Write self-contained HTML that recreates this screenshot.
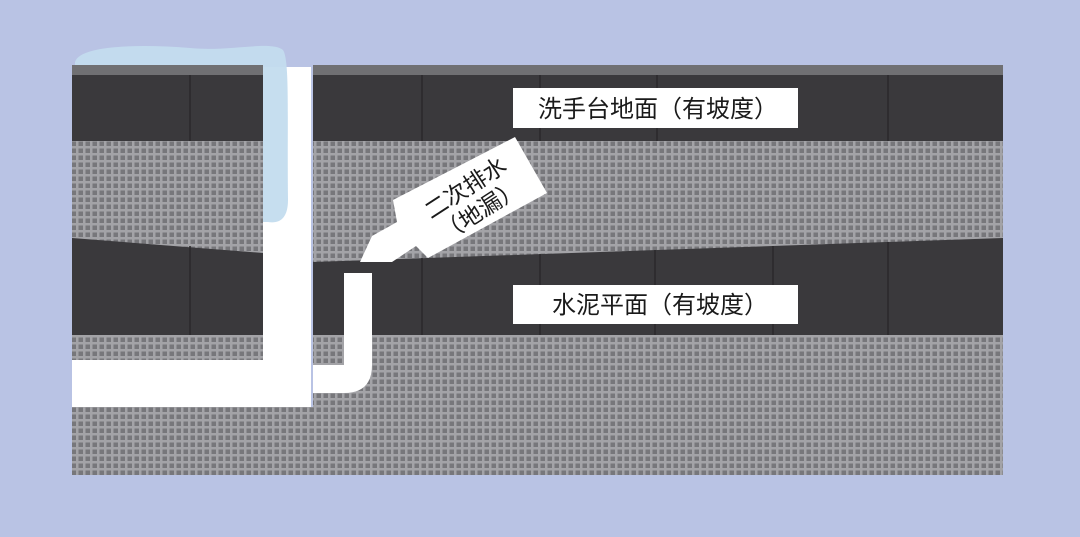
<!DOCTYPE html>
<html><head><meta charset="utf-8"><style>
html,body{margin:0;padding:0;background:#b9c3e4;}
svg{display:block;}
text{font-family:"Liberation Sans","Noto Sans CJK SC",sans-serif;fill:#1a1a1a;}
</style></head><body>
<svg width="1080" height="537" viewBox="0 0 1080 537" xmlns="http://www.w3.org/2000/svg">
<defs>
<pattern id="mesh" width="7" height="7" patternUnits="userSpaceOnUse">
<rect width="7" height="7" fill="#a3a3a7"/>
<rect x="1.5" y="1.5" width="4.5" height="4.5" fill="#77777b"/>
</pattern>
</defs>
<rect width="1080" height="537" fill="#b9c3e4"/>
<rect x="72" y="65" width="191" height="10" fill="#707073"/>
<rect x="72" y="75" width="191" height="66" fill="#3a393c"/>
<line x1="190" y1="75" x2="190" y2="141" stroke="#2a292b" stroke-width="1.5"/>
<rect x="72" y="141" width="191" height="219" fill="url(#mesh)"/>
<polygon points="72,238 263,253 263,335 72,335" fill="#3a393c"/>
<line x1="190" y1="246" x2="190" y2="335" stroke="#2a292b" stroke-width="1.5"/>
<rect x="313" y="65" width="690" height="10" fill="#707073"/>
<rect x="313" y="75" width="690" height="66" fill="#3a393c"/>
<g stroke="#2a292b" stroke-width="1.5">
<line x1="422" y1="75" x2="422" y2="141"/><line x1="540" y1="75" x2="540" y2="141"/>
<line x1="657" y1="75" x2="657" y2="141"/><line x1="888" y1="75" x2="888" y2="141"/>
</g>
<rect x="313" y="141" width="690" height="334" fill="url(#mesh)"/>
<rect x="72" y="407" width="241" height="68" fill="url(#mesh)"/>
<polygon points="313,262 1003,238 1003,335 313,335" fill="#3a393c"/>
<g stroke="#2a292b" stroke-width="1.5">
<line x1="422" y1="258" x2="422" y2="335"/><line x1="540" y1="254" x2="540" y2="335"/>
<line x1="655" y1="250" x2="655" y2="335"/><line x1="773" y1="246" x2="773" y2="335"/>
<line x1="888" y1="242" x2="888" y2="335"/>
</g>
<rect x="263" y="67" width="48" height="340" fill="#ffffff"/>
<rect x="72" y="360" width="239" height="47" fill="#ffffff"/>
<path d="M75,62 C80,45 140,44 190,48 C230,52 270,40 283,50 C290,60 287,120 288,200 C288,218 280,224 268,222 L263,222 L263,65 L75,65 Z" fill="#c3dcee" opacity="0.95"/>
<rect x="344" y="273" width="28" height="62" fill="#ffffff"/>
<path d="M344,335 L372,335 L372,365 Q372,393 344,393 L313,393 L313,365 L344,365 Z" fill="#ffffff"/>
<polygon points="360,262 372,236 397,222 393,200 515,137 547,193 428,258 416,246 392,262" fill="#ffffff"/>
<g transform="translate(472,198) rotate(-33)">
<text x="0" y="-4" font-size="23" text-anchor="middle">二次排水</text>
<text x="0" y="23" font-size="23" text-anchor="middle">（地漏）</text>
</g>
<rect x="513" y="88" width="285" height="40" fill="#ffffff"/>
<text x="538" y="117" font-size="24">洗手台地面（有坡度）</text>
<rect x="513" y="285" width="285" height="39" fill="#ffffff"/>
<text x="552" y="313" font-size="24">水泥平面（有坡度）</text>
</svg>
</body></html>
